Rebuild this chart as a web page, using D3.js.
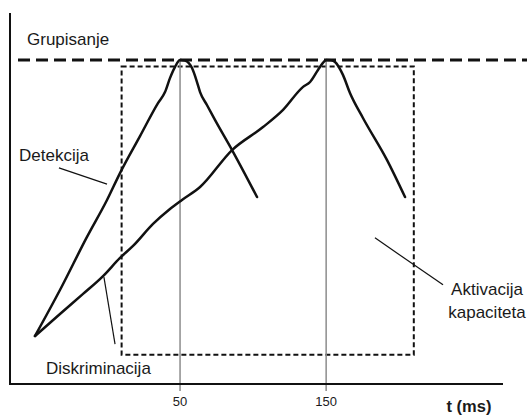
<!DOCTYPE html>
<html>
<head>
<meta charset="utf-8">
<script src="https://cdn.jsdelivr.net/npm/d3@7"></script>
<style>
  html, body { margin: 0; padding: 0; background: #fff; }
  svg { display: block; }
  text { font-family: "Liberation Sans", Arial, sans-serif; fill: #1a1a1a; }
</style>
</head>
<body>
<svg id="chart" width="527" height="416"></svg>
<script>
// ---- data (time in ms, activation in arbitrary units) ----
const tickValues = [50, 150];
const tickLabels = ["50", "150"];
const axisTitle = "t (ms)";

const detekcijaT = [-49.3, -32.2, -13.7, 0, 8.9, 22.6, 34.9, 39.7, 43.1, 46.5, 50, 53.4, 58.2, 61.6, 63.7, 68.4, 73.9, 85.6, 102.7];
const detekcijaV = [14.8, 29.0, 45.4, 56.8, 65.1, 76.5, 86.7, 90.1, 94.4, 97.8, 100, 99.8, 97.5, 93.2, 90.1, 86.1, 81.5, 72.2, 57.7];

const diskriminacijaT = [-49.3, -32.2, -16.4, -2.7, 8.9, 17.8, 31.5, 43.1, 51.3, 63.7, 85.6, 106.8, 120.5, 134.2, 139.0, 144.4, 147.8, 150, 153.5, 156.1, 161.5, 166.3, 175.2, 191.7, 204.0];
const diskriminacijaV = [14.8, 21.6, 27.8, 33.3, 38.9, 42.6, 49.4, 54.0, 56.8, 60.8, 72.2, 79.3, 84.6, 91.7, 93.2, 96.9, 99.1, 100, 99.9, 99.4, 95.4, 89.8, 82.1, 69.1, 57.7];

const grupisanjeLevel = 100;
const kapacitetT = [10, 210];
const kapacitetV = [9, 98];

const labels = ["Grupisanje", "Detekcija", "Diskriminacija", "Aktivacija", "kapaciteta"];

// ---- scales ----
const W = 527, H = 416;
const x = d3.scaleLinear().domain([-66.4, 269]).range([10, 500]);
const y = d3.scaleLinear().domain([0, 114.5]).range([384, 13]);

const svg = d3.select("#chart");

// capacity activation dotted box
svg.append("rect")
  .attr("x", x(kapacitetT[0])).attr("y", y(kapacitetV[1]))
  .attr("width", x(kapacitetT[1]) - x(kapacitetT[0]))
  .attr("height", y(kapacitetV[0]) - y(kapacitetV[1]))
  .attr("fill", "none").attr("stroke", "#111").attr("stroke-width", 2)
  .attr("stroke-dasharray", "5,3");

// grey vertical reference lines + ticks
svg.selectAll("line.ref").data(tickValues).join("line")
  .attr("class", "ref")
  .attr("x1", d => x(d)).attr("x2", d => x(d))
  .attr("y1", y(grupisanjeLevel)).attr("y2", y(0) + 7)
  .attr("stroke", "#8c8c8c").attr("stroke-width", 1.5);

// grouping dashed line
svg.append("line")
  .attr("x1", 18).attr("x2", W)
  .attr("y1", y(grupisanjeLevel)).attr("y2", y(grupisanjeLevel))
  .attr("stroke", "#111").attr("stroke-width", 3)
  .attr("stroke-dasharray", "12,6");

// axes
svg.append("line")
  .attr("x1", x(-66.4)).attr("x2", x(-66.4))
  .attr("y1", y(114.5)).attr("y2", y(0))
  .attr("stroke", "#111").attr("stroke-width", 2);
svg.append("line")
  .attr("x1", x(-66.4) - 1).attr("x2", 503)
  .attr("y1", y(0)).attr("y2", y(0))
  .attr("stroke", "#111").attr("stroke-width", 2);

// tick labels
svg.selectAll("text.tick").data(tickValues).join("text")
  .attr("class", "tick")
  .attr("x", d => x(d)).attr("y", 406)
  .attr("text-anchor", "middle")
  .attr("font-size", 13)
  .text((d, i) => tickLabels[i]);

svg.append("text")
  .attr("x", 469).attr("y", 412)
  .attr("text-anchor", "middle")
  .attr("font-size", 16.5).attr("font-weight", "bold")
  .text(axisTitle);

// curves
const line = d3.line().x(d => x(d[0])).y(d => y(d[1])).curve(d3.curveMonotoneX);
const det = detekcijaT.map((t, i) => [t, detekcijaV[i]]);
const dis = diskriminacijaT.map((t, i) => [t, diskriminacijaV[i]]);
[det, dis].forEach(pts => {
  svg.append("path")
    .attr("d", line(pts))
    .attr("fill", "none").attr("stroke", "#111")
    .attr("stroke-width", 2.5).attr("stroke-linejoin", "round").attr("stroke-linecap", "round");
});

// leader lines (data coordinates)
const leaders = [
  [[-32.9, 66.7], [0, 61.7]],
  [[-2.1, 33.0], [5.5, 12.3]],
  [[183.4, 45.1], [230, 30.6]]
];
svg.selectAll("line.leader").data(leaders).join("line")
  .attr("class", "leader")
  .attr("x1", d => x(d[0][0])).attr("y1", d => y(d[0][1]))
  .attr("x2", d => x(d[1][0])).attr("y2", d => y(d[1][1]))
  .attr("stroke", "#111").attr("stroke-width", 1.2);

// labels
const fs = 17;
svg.append("text").attr("x", 27).attr("y", 45).attr("font-size", fs).text(labels[0]);
svg.append("text").attr("x", 19).attr("y", 161).attr("font-size", fs).text(labels[1]);
svg.append("text").attr("x", 46).attr("y", 374).attr("font-size", fs).text(labels[2]);
svg.append("text").attr("x", 487).attr("y", 295).attr("text-anchor", "middle").attr("font-size", fs).text(labels[3]);
svg.append("text").attr("x", 487).attr("y", 318).attr("text-anchor", "middle").attr("font-size", fs).text(labels[4]);
</script>
</body>
</html>
